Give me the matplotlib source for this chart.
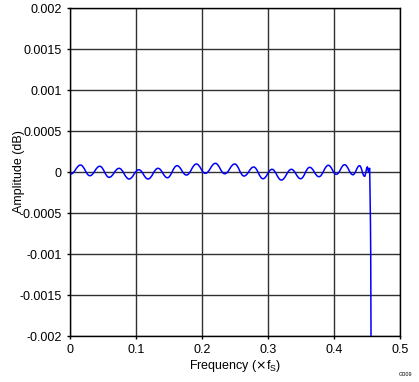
"""Passband ripple of the decimation filter, amplitude vs normalised frequency."""
import matplotlib
matplotlib.use("Agg")
import matplotlib.pyplot as plt
from matplotlib.path import Path
from matplotlib.patches import PathPatch

# ripple extrema (frequency in x fs, amplitude in dB)
freq = [0.0012, 0.0159, 0.0300, 0.0451, 0.0592, 0.0743, 0.0895, 0.1042, 0.1182,
        0.1334, 0.1476, 0.1621, 0.1764, 0.1915, 0.2051, 0.2203, 0.2344, 0.2495,
        0.2636, 0.2783, 0.2924, 0.3060, 0.3202, 0.3354, 0.3494, 0.3631, 0.3772,
        0.3914, 0.4035, 0.4160, 0.4286, 0.4387, 0.4463, 0.4505, 0.4525, 0.4540]
amp = [-0.000024, 0.000085, -0.000045, 0.000070, -0.000065, 0.000045, -0.000085,
       0.000028, -0.000085, 0.000045, -0.000070, 0.000077, -0.000037, 0.000098,
       -0.000016, 0.000106, -0.000021, 0.000098, -0.000049, 0.000061, -0.000082,
       0.000033, -0.000098, 0.000033, -0.000082, 0.000057, -0.000057, 0.000082,
       -0.000028, 0.000089, -0.000033, 0.000077, -0.000052, 0.000061, -0.000005,
       0.000050]
# roll-off at the band edge
edge_freq = [0.4552, 0.4556, 0.4565]
edge_amp = [-0.0006, -0.0010, -0.0030]

x_ticks = [0, 0.1, 0.2, 0.3, 0.4, 0.5]
x_labels = ["0", "0.1", "0.2", "0.3", "0.4", "0.5"]
y_ticks = [0.002, 0.0015, 0.001, 0.0005, 0, -0.0005, -0.001, -0.0015, -0.002]
y_labels = ["0.002", "0.0015", "0.001", "0.0005", "0", "-0.0005", "-0.001",
            "-0.0015", "-0.002"]

plt.rcParams["font.family"] = ["Liberation Sans", "DejaVu Sans"]
plt.rcParams["font.size"] = 9

fig = plt.figure(figsize=(4.19, 3.82), dpi=100)
ax = fig.add_axes([0.1671, 0.1204, 0.7876, 0.8586])

# smooth ripple: bezier with flat tangents at each extremum
verts = [(freq[0], amp[0])]
codes = [Path.MOVETO]
for i in range(len(freq) - 1):
    dx = freq[i + 1] - freq[i]
    verts += [(freq[i] + 0.4 * dx, amp[i]), (freq[i + 1] - 0.4 * dx, amp[i + 1]),
              (freq[i + 1], amp[i + 1])]
    codes += [Path.CURVE4] * 3
for f, a in zip(edge_freq, edge_amp):
    verts.append((f, a))
    codes.append(Path.LINETO)
ax.add_patch(PathPatch(Path(verts, codes), fill=False, edgecolor="#0000ff",
                       linewidth=1.1, zorder=3, clip_on=True))

ax.set_xlim(0, 0.5)
ax.set_ylim(-0.002, 0.002)
ax.set_xticks(x_ticks)
ax.set_xticklabels(x_labels)
ax.set_yticks(y_ticks)
ax.set_yticklabels(y_labels)
ax.tick_params(length=2, width=1, color="black", pad=4)
ax.grid(True, color="#303030", linewidth=1)
for s in ax.spines.values():
    s.set_color("black")
    s.set_linewidth(1)

ax.set_xlabel(r"Frequency ($\times$f$_\mathregular{S}$)", labelpad=1)
ax.set_ylabel("Amplitude (dB)")
ax.yaxis.set_label_coords(-0.137, 0.5)
fig.text(0.985, 0.012, "G009", fontsize=4, ha="right", va="bottom")

fig.savefig("out.png", dpi=100)
